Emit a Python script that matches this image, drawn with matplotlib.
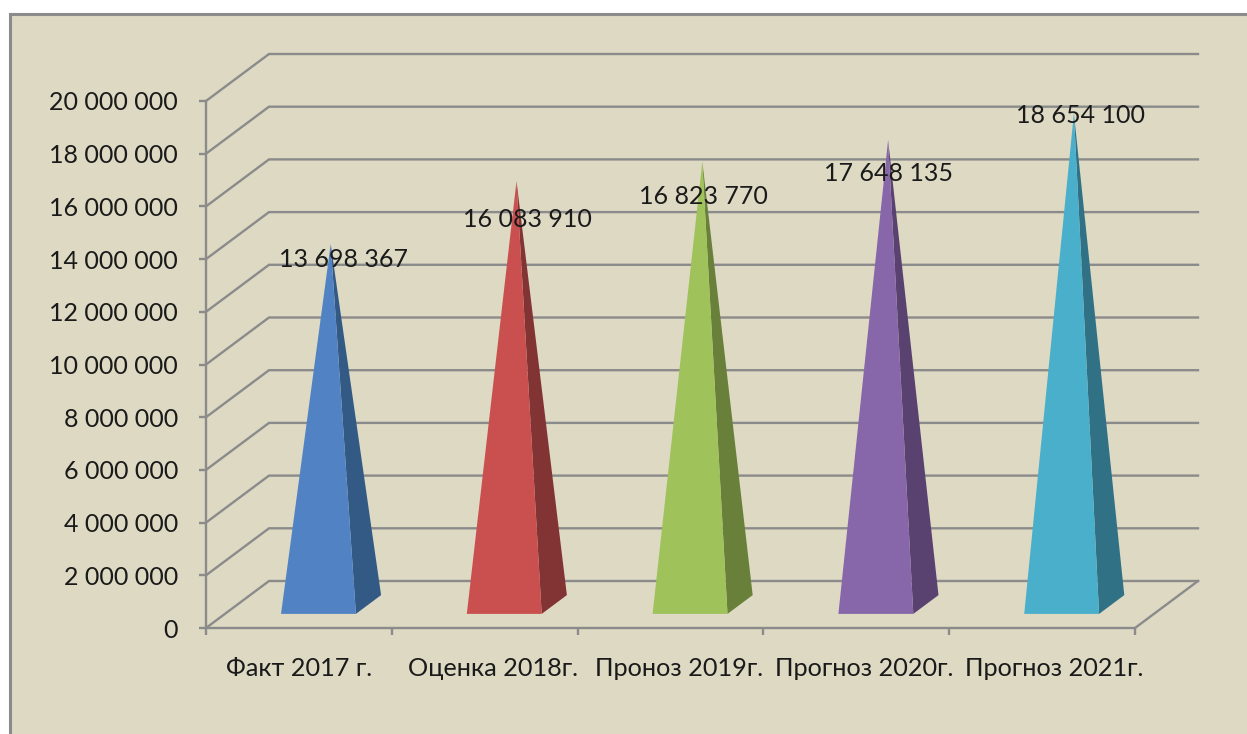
import matplotlib.pyplot as plt
from matplotlib.patches import Polygon, Rectangle

categories = ['Факт 2017 г.', 'Оценка 2018г.', 'Проноз 2019г.', 'Прогноз 2020г.', 'Прогноз 2021г.']
values = [13698367, 16083910, 16823770, 17648135, 18654100]
value_labels = ['13 698 367', '16 083 910', '16 823 770', '17 648 135', '18 654 100']
y_ticks = list(range(0, 20000001, 2000000))
y_labels = ['0', '2 000 000', '4 000 000', '6 000 000', '8 000 000', '10 000 000',
            '12 000 000', '14 000 000', '16 000 000', '18 000 000', '20 000 000']
front_colors = ['#5183C4', '#C9504F', '#9FC25B', '#8866AA', '#4AAFCB']
side_colors = ['#335A85', '#823333', '#68803A', '#5A4270', '#307185']
# manual label shifts from the apex, in pixels
label_shift = [(13, -15), (11, -38), (1, -35), (0, -34), (7, -2)]
# category labels are not quite centred under their slots
label_x = [0.5, 1.545, 2.546, 3.54, 4.564]

BG = '#DDD9C3'
GRID = '#8B8B8B'
W, H = 1247, 734
plt.rcParams['font.family'] = ['Lato', 'Open Sans', 'DejaVu Sans']

fig = plt.figure(figsize=(W / 100, H / 100), dpi=100, facecolor='white')
fig.add_artist(Rectangle((9.5 / W, -0.01), 1.1, (H - 13.5) / H + 0.01, transform=fig.transFigure,
                         facecolor=BG, edgecolor=GRID, linewidth=2.2, zorder=-1))

ax = fig.add_axes([206 / W, (H - 628) / H, 929 / W, 527 / H])
ax.set_xlim(0, 5)
ax.set_ylim(0, 20000000)
ax.patch.set_alpha(0)

# depth of the fake 3d box, in data units
dx = 63 / 185.8
dy = 47 * 20000000 / 527


def project(x, v, depth):
    return x + dx * depth, v + dy * depth


for v in y_ticks:
    ax.plot([0, dx, 5 + dx], [v, v + dy, v + dy], color=GRID, lw=1.7, clip_on=False, zorder=1,
            solid_joinstyle='miter')
ax.plot([5, 5 + dx], [0, dy], color=GRID, lw=1.7, clip_on=False, zorder=1)

for i, v in enumerate(values):
    fl = project(i + 0.302, 0, 0.3)
    fr = project(i + 0.705, 0, 0.3)
    br = project(i + 0.705, 0, 0.7)
    apex = project(i + 0.505, v, 0.49)
    ax.add_patch(Polygon([fr, br, apex], closed=True, facecolor=side_colors[i], edgecolor='none',
                         clip_on=False, zorder=3))
    ax.add_patch(Polygon([fl, fr, apex], closed=True, facecolor=front_colors[i], edgecolor='none',
                         clip_on=False, zorder=4))
    ax.annotate(value_labels[i], apex, xytext=label_shift[i], textcoords='offset pixels',
                ha='center', va='center', fontsize=18, color='#1A1A1A', zorder=5)

for side in ['top', 'right']:
    ax.spines[side].set_visible(False)
for side in ['left', 'bottom']:
    ax.spines[side].set_color(GRID)
    ax.spines[side].set_linewidth(1.7)

ax.set_yticks(y_ticks)
ax.set_yticklabels(y_labels, fontsize=18, color='#1A1A1A')
ax.set_xticks(range(6))
ax.set_xticklabels([])
ax.set_xticks(label_x, minor=True)
ax.set_xticklabels(categories, minor=True, fontsize=18.2, color='#1A1A1A')
ax.tick_params(axis='x', which='major', length=5, width=1.7, color=GRID)
ax.tick_params(axis='x', which='minor', length=0, pad=21)
ax.tick_params(axis='y', length=5, width=1.7, color=GRID, pad=15)

fig.savefig('out.png', dpi=100, facecolor='white')
